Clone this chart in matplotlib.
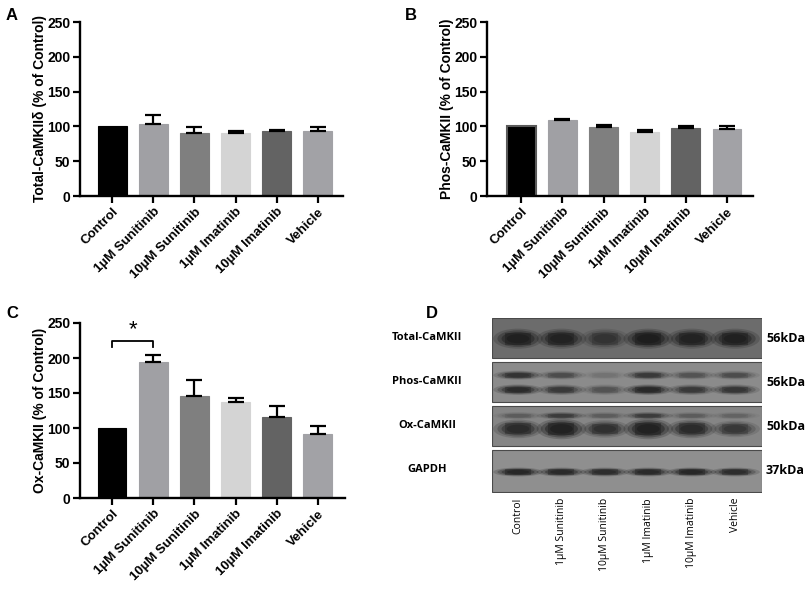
import numpy as np
import matplotlib.pyplot as plt
from matplotlib.patches import Rectangle, Ellipse

plt.rcParams['font.family'] = ['Liberation Sans', 'DejaVu Sans']
plt.rcParams['font.weight'] = 'bold'

# ---- data ----
groups = ['Control', '1µM Sunitinib', '10µM Sunitinib', '1µM Imatinib', '10µM Imatinib', 'Vehicle']
bar_colors = ['#000000', '#a0a0a4', '#7f7f7f', '#d4d4d4', '#636363', '#a2a2a6']

total_mean = [100, 103.4, 90.5, 90.5, 93.0, 93.4]
total_err = [0, 12.5, 8.5, 3.0, 2.3, 5.6]

phos_mean = [100, 108.7, 98.7, 91.5, 97.2, 95.8]
phos_err = [0, 1.3, 3.3, 2.8, 3.4, 4.8]

ox_mean = [100, 193.7, 146.0, 136.5, 116.0, 91.0]
ox_err = [0, 10.3, 22.0, 6.5, 15.0, 12.5]

# western blot (panel D), relative band darkness per lane
blot_rows = ['Total-CaMKII', 'Phos-CaMKII', 'Ox-CaMKII', 'GAPDH']
blot_kda = ['56kDa', '56kDa', '50kDa', '37kDa']
total_band = [0.95, 0.9, 0.55, 1.0, 0.9, 0.95]
phos_upper = [0.7, 0.4, 0.12, 0.6, 0.35, 0.4]
phos_lower = [0.8, 0.6, 0.35, 0.85, 0.6, 0.65]
ox_upper = [0.25, 0.55, 0.25, 0.55, 0.25, 0.2]
ox_band = [0.8, 1.0, 0.7, 1.0, 0.8, 0.6]
gapdh_band = [0.9, 0.85, 0.8, 0.85, 0.9, 0.8]

W, H = 810, 591
fig = plt.figure(figsize=(W / 100, H / 100), dpi=100)


def px_axes(l, t, r, b):
    return fig.add_axes([l / W, 1 - b / H, (r - l) / W, (b - t) / H])


def bar_panel(ax, means, errs, ylabel, xlim):
    x = np.arange(len(groups))
    ax.bar(x, means, width=0.7, color=bar_colors, edgecolor=bar_colors, linewidth=0.8, zorder=2)
    ax.errorbar(x[1:], means[1:], yerr=[np.zeros(len(x) - 1), errs[1:]], fmt='none',
                ecolor='black', elinewidth=1.6, capsize=5.5, capthick=1.6, zorder=3)
    ax.set_xlim(*xlim)
    ax.set_ylim(0, 250)
    ax.set_yticks([0, 50, 100, 150, 200, 250])
    ax.set_xticks(x)
    ax.set_xticklabels(groups, rotation=45, ha='right', rotation_mode='anchor')
    for s in ['top', 'right']:
        ax.spines[s].set_visible(False)
    for s in ['left', 'bottom']:
        ax.spines[s].set_linewidth(1.7)
    ax.tick_params(direction='out', width=1.6, length=5, pad=2)
    ax.tick_params(axis='y', labelsize=10)
    ax.tick_params(axis='x', labelsize=9.5)
    ax.set_ylabel(ylabel, fontsize=10, fontweight='bold', labelpad=0)


axA = px_axes(80, 22, 343, 196)
bar_panel(axA, total_mean, total_err, 'Total-CaMKIIδ (% of Control)', (-0.78, 5.61))

axB = px_axes(487, 22, 753, 196)
bar_panel(axB, phos_mean, phos_err, 'Phos-CaMKII (% of Control)', (-0.83, 5.63))
axB.patches[0].set_edgecolor('#5a5a5a')
axB.patches[0].set_linewidth(1.5)

axC = px_axes(80, 323, 345, 498)
bar_panel(axC, ox_mean, ox_err, 'Ox-CaMKII (% of Control)', (-0.78, 5.66))
# significance bracket
axC.plot([0, 0, 1, 1], [216, 224, 224, 216], color='black', lw=1.3, clip_on=False)
axC.text(0.5, 226, '*', ha='center', va='bottom', fontsize=16, fontweight='normal')

# ---- panel D: blot ----
axD = px_axes(492, 318, 762, 493)
axD.set_xlim(-0.6, 5.62)
axD.set_ylim(3.977, 0)
axD.axis('off')

row_bg = ['#6c6c6c', '#8b8b8b', '#858585', '#8f8f8f']
row_h = [0.91, 0.91, 0.91, 0.95]
for i in range(4):
    axD.add_patch(Rectangle((-0.6, i), 6.22, row_h[i], facecolor=row_bg[i],
                            edgecolor='#4a4a4a', linewidth=0.8))

band_specs = [
    (0, 0.47, 0.38, total_band),
    (1, 0.30, 0.17, phos_upper),
    (1, 0.63, 0.20, phos_lower),
    (2, 0.22, 0.14, ox_upper),
    (2, 0.52, 0.28, ox_band),
    (3, 0.50, 0.17, gapdh_band),
]
for row, yoff, h, vals in band_specs:
    for lane, v in enumerate(vals):
        hh = h * (0.7 + 0.7 * v) if row == 2 and h > 0.2 else h
        for scale, a in [(1.2, 0.2), (1.0, 0.3), (0.8, 0.4), (0.55, 0.4)]:
            axD.add_patch(Ellipse((lane, row + yoff), 0.95 * scale, hh * scale,
                                  facecolor='#141414', edgecolor='none', alpha=a * v))
        axD.add_patch(Rectangle((lane - 0.3, row + yoff - hh * 0.35), 0.6, hh * 0.7,
                                facecolor='#141414', edgecolor='none', alpha=0.35 * v))

for i, (name, kda) in enumerate(zip(blot_rows, blot_kda)):
    yc = 338 + 44 * i
    fig.text(427 / W, 1 - yc / H, name, ha='center', va='center', fontsize=8,
             fontweight='bold', family=['Open Sans', 'DejaVu Sans'])
    fig.text(766 / W, 1 - yc / H, kda, ha='left', va='center', fontsize=9,
             fontweight='bold', family=['Open Sans', 'DejaVu Sans'])

for lane, g in enumerate(groups):
    xd = axD.transData.transform((lane, 0))[0]
    fig.text(xd / fig.dpi / fig.get_figwidth(), 1 - 498 / H, g, rotation=90,
             ha='center', va='top', fontsize=7.5, fontweight='normal',
             family=['Open Sans', 'DejaVu Sans'])

# panel letters
for lab, x, y in [('A', 12, 15), ('B', 411, 15), ('C', 12, 313), ('D', 432, 313)]:
    fig.text(x / W, 1 - y / H, lab, ha='center', va='center', fontsize=12, fontweight='bold')

fig.savefig('out.png', dpi=100)
